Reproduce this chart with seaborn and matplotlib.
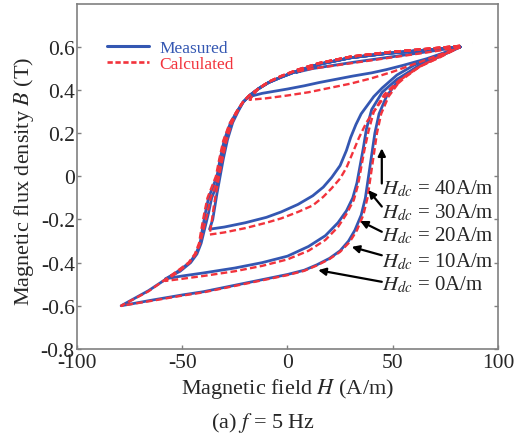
import pandas as pd
import matplotlib
matplotlib.use("Agg")
import matplotlib.pyplot as plt
from matplotlib.lines import Line2D
import seaborn as sns

# DC bias of each loop (A/m)
hdc_values = [0, 10, 20, 30, 40]

# measured loops, traced from the tip down the left branch and back up
h_meas_0 = [82, 65, 47, 30, 15, 5, -3, -9, -14, -18, -21, -24, -27, -30, -32, -33.5, -35.5, -37.5, -39, -40.5,
            -41.5, -43.5, -46.5, -52, -57.5, -66, -79,
            -65, -50, -40, -25, -10, 0, 8, 14, 20, 25, 29, 32, 35, 37, 38.5, 40, 41.5, 43.5, 47, 53, 62, 72, 82]
b_meas_0 = [0.60, 0.585, 0.57, 0.55, 0.52, 0.49, 0.46, 0.435, 0.405, 0.375, 0.345, 0.30, 0.25, 0.17, 0.08, 0.0,
            -0.05, -0.10, -0.17, -0.25, -0.31, -0.36, -0.40, -0.44, -0.475, -0.53, -0.60,
            -0.575, -0.55, -0.535, -0.505, -0.475, -0.455, -0.435, -0.41, -0.38, -0.345, -0.30, -0.25, -0.18,
            -0.10, 0.0, 0.10, 0.20, 0.29, 0.37, 0.45, 0.51, 0.555, 0.60]
h_meas_10 = [82, 65, 47, 30, 15, 5, -3, -9, -14, -18, -21, -24, -26.5, -29, -31, -32.5, -34, -36, -37.5, -39.5,
             -41, -43, -46, -51, -58,
             -50, -40, -25, -12, 0, 10, 18, 24, 28, 31, 33, 34.5, 36, 37.5, 40, 45, 52, 62, 72, 82]
b_meas_10 = [0.60, 0.585, 0.57, 0.55, 0.52, 0.49, 0.46, 0.435, 0.405, 0.375, 0.345, 0.30, 0.25, 0.17, 0.08, 0.0,
             -0.05, -0.10, -0.17, -0.25, -0.31, -0.36, -0.40, -0.44, -0.475,
             -0.462, -0.448, -0.425, -0.40, -0.37, -0.325, -0.275, -0.215, -0.16, -0.10, -0.03, 0.05, 0.13, 0.22,
             0.31, 0.39, 0.45, 0.51, 0.555, 0.60]
h_meas_20 = [82, 65, 47, 30, 15, 5, -3, -9, -14, -18, -21, -23.5, -26, -28.5, -30.5, -32, -33.5, -34.5, -35.5, -37,
             -30, -20, -10, -3, 5, 12, 17, 21, 25, 28, 30, 32.5, 35, 38, 41, 45, 52, 60, 70, 82]
b_meas_20 = [0.60, 0.585, 0.57, 0.55, 0.52, 0.49, 0.46, 0.435, 0.405, 0.375, 0.345, 0.30, 0.25, 0.17, 0.08, 0.0,
             -0.08, -0.14, -0.20, -0.245,
             -0.235, -0.215, -0.19, -0.165, -0.13, -0.09, -0.05, -0.005, 0.05, 0.12, 0.18, 0.24, 0.29, 0.33, 0.37,
             0.41, 0.47, 0.515, 0.555, 0.60]
h_meas_30 = [82, 65, 47, 30, 15, 5, -3, -9, -14, -18,
             -12, -6, 0, 8, 15, 23, 31, 40, 47, 55, 66, 75, 82]
b_meas_30 = [0.60, 0.585, 0.57, 0.55, 0.52, 0.49, 0.46, 0.435, 0.405, 0.37,
             0.385, 0.395, 0.405, 0.42, 0.435, 0.45, 0.465, 0.48, 0.495, 0.515, 0.545, 0.575, 0.60]
h_meas_40 = [82, 65, 47, 30, 15, 4, 12, 22, 32, 45, 58, 70, 82]
b_meas_40 = [0.60, 0.585, 0.57, 0.55, 0.52, 0.482, 0.50, 0.515, 0.53, 0.548, 0.566, 0.583, 0.60]

# calculated loops
h_calc_0 = [82, 65, 47, 30, 15, 5, -3, -9, -14, -18.5, -21.5, -24.5, -27.5, -30.5, -32.5, -34, -36, -38, -39.5, -41,
            -42, -44, -47, -52.5, -58, -66, -79,
            -65, -50, -40, -25, -10, 0, 8, 14, 20, 25, 29.5, 33, 36, 38, 39.5, 41, 42.5, 44.5, 48, 54, 63, 72, 82]
b_calc_0 = [0.605, 0.59, 0.575, 0.555, 0.525, 0.495, 0.465, 0.438, 0.405, 0.372, 0.34, 0.295, 0.245, 0.165, 0.075,
            0.0, -0.05, -0.10, -0.17, -0.25, -0.31, -0.36, -0.40, -0.44, -0.478, -0.533, -0.60,
            -0.578, -0.553, -0.538, -0.508, -0.478, -0.458, -0.438, -0.413, -0.383, -0.35, -0.305, -0.25, -0.18,
            -0.10, 0.0, 0.10, 0.20, 0.29, 0.37, 0.45, 0.51, 0.555, 0.60]
h_calc_10 = [82, 65, 47, 30, 15, 5, -3, -9, -14, -18.5, -21.5, -24.5, -27, -29.5, -31.5, -33, -34.5, -36.5, -38, -40,
             -41.5, -43.5, -46.5, -51.5, -58,
             -50, -40, -25, -12, 0, 10, 18, 24, 28, 31.5, 33.5, 35, 36.5, 38.5, 41, 46, 53, 62, 72, 82]
b_calc_10 = [0.605, 0.59, 0.575, 0.555, 0.525, 0.495, 0.465, 0.438, 0.405, 0.372, 0.34, 0.295, 0.245, 0.165, 0.075,
             0.0, -0.05, -0.10, -0.17, -0.25, -0.31, -0.36, -0.40, -0.44, -0.485,
             -0.475, -0.462, -0.44, -0.415, -0.385, -0.345, -0.295, -0.235, -0.175, -0.11, -0.04, 0.04, 0.12, 0.21,
             0.30, 0.38, 0.445, 0.505, 0.552, 0.60]
h_calc_20 = [82, 65, 47, 30, 15, 5, -3, -9, -14, -18.5, -21.5, -24, -26.5, -29, -31, -32.5, -34, -35, -36, -37,
             -30, -20, -10, -3, 5, 12, 17, 21, 25, 28, 31, 34, 37.5, 41, 45, 50, 56, 63, 72, 82]
b_calc_20 = [0.605, 0.59, 0.575, 0.555, 0.525, 0.495, 0.465, 0.438, 0.405, 0.372, 0.34, 0.295, 0.245, 0.165, 0.075,
             0.0, -0.08, -0.14, -0.21, -0.27,
             -0.26, -0.24, -0.215, -0.195, -0.165, -0.135, -0.095, -0.055, -0.01, 0.04, 0.11, 0.18, 0.25, 0.30,
             0.355, 0.41, 0.46, 0.51, 0.55, 0.60]
h_calc_30 = [82, 65, 47, 30, 15, 5, -3, -9, -14, -18,
             -10, 0, 10, 20, 30, 40, 50, 60, 70, 82]
b_calc_30 = [0.605, 0.59, 0.575, 0.555, 0.525, 0.495, 0.465, 0.438, 0.405, 0.355,
             0.362, 0.375, 0.39, 0.41, 0.43, 0.455, 0.485, 0.52, 0.555, 0.60]
h_calc_40 = [82, 65, 47, 30, 15, 4, 12, 22, 32, 45, 58, 70, 82]
b_calc_40 = [0.605, 0.59, 0.575, 0.555, 0.525, 0.485, 0.50, 0.513, 0.527, 0.545, 0.563, 0.58, 0.60]

# annotation positions (data coords): text y, arrow head and tail (x, y)
label_y = [-0.497, -0.39, -0.274, -0.167, -0.056]
arrow_head = [(14.6, -0.435), (30.5, -0.327), (34.5, -0.207), (38.4, -0.064), (44.8, 0.13)]
arrow_tail = [(44.8, -0.489), (44.8, -0.366), (44.8, -0.257), (44.8, -0.14), (44.8, -0.033)]

blue = "#3457b2"
red = "#f2333c"

meas = [(h_meas_0, b_meas_0), (h_meas_10, b_meas_10), (h_meas_20, b_meas_20),
        (h_meas_30, b_meas_30), (h_meas_40, b_meas_40)]
calc = [(h_calc_0, b_calc_0), (h_calc_10, b_calc_10), (h_calc_20, b_calc_20),
        (h_calc_30, b_calc_30), (h_calc_40, b_calc_40)]

rows = []
for kind, loops in [("Measured", meas), ("Calculated", calc)]:
    for hdc, (hs, bs) in zip(hdc_values, loops):
        for i, (h, b) in enumerate(zip(hs, bs)):
            rows.append({"H": h, "B": b, "kind": kind, "loop": f"{kind}{hdc}", "i": i})
df = pd.DataFrame(rows)

sns.set_theme(style="ticks")
plt.rcParams["font.family"] = ["Liberation Serif", "DejaVu Serif"]
plt.rcParams["mathtext.fontset"] = "stix"

fig = plt.figure(figsize=(5.27, 4.39), dpi=100)
ax = fig.add_axes([0.146, 0.203, 0.799, 0.786])

sns.lineplot(data=df[df.kind == "Measured"], x="H", y="B", units="loop", estimator=None, sort=False,
             color=blue, linewidth=2.0, ax=ax)
sns.lineplot(data=df[df.kind == "Calculated"], x="H", y="B", units="loop", estimator=None, sort=False,
             color=red, linewidth=1.7, ax=ax)
# dashed style for calculated curves
n_meas = len(hdc_values)
for line in ax.lines[n_meas:]:
    line.set_dashes((2.8, 1.4))

ax.set_xlim(-100, 100)
ax.set_ylim(-0.8, 0.8)
ax.set_xticks([-100, -50, 0, 50, 100])
ax.set_xticklabels(["-100", "-50", "0", "50", "100"])
yt = [-0.8, -0.6, -0.4, -0.2, 0, 0.2, 0.4, 0.6]
ax.set_yticks(yt)
ax.set_yticklabels(["-0.8", "-0.6", "-0.4", "-0.2", "0", "0.2", "0.4", "0.6"])
ax.tick_params(direction="in", length=3, width=1, color="#808080", labelsize=15.5, right=True, pad=1.5)
ax.tick_params(axis="x", pad=3)
for s in ax.spines.values():
    s.set_color("#808080")
    s.set_linewidth(1.2)

ax.set_xlabel("Magnetic field $H$ (A/m)", fontsize=16)
ax.set_ylabel("Magnetic flux density $B$ (T)", fontsize=16)
ax.xaxis.set_label_coords(0.5, -0.078)
ax.yaxis.set_label_coords(-0.097, 0.49)

handles = [Line2D([], [], color=blue, lw=2.2),
           Line2D([], [], color=red, lw=1.9, dashes=(2.0, 1.0))]
leg = ax.legend(handles, ["Measured", "Calculated"], loc="upper left", bbox_to_anchor=(0.055, 0.915),
                frameon=False, fontsize=12.5, handlelength=2.4, handletextpad=0.6, labelspacing=0.0,
                borderaxespad=0)
for t, c in zip(leg.get_texts(), [blue, red]):
    t.set_color(c)

for hdc, ty, head, tail in zip(hdc_values, label_y, arrow_head, arrow_tail):
    ax.text(44.9, ty, r"$H_{dc}$ = " + f"{hdc}A/m", fontsize=15, va="center", ha="left", clip_on=False)
    ax.annotate("", xy=head, xytext=tail,
                arrowprops=dict(arrowstyle="-|>", color="black", lw=1.6, mutation_scale=11,
                                shrinkA=0, shrinkB=0))

fig.text(0.499, 0.036, "(a) $f$ = 5 Hz", fontsize=16, ha="center", va="center")

fig.savefig("out.png", dpi=100)
